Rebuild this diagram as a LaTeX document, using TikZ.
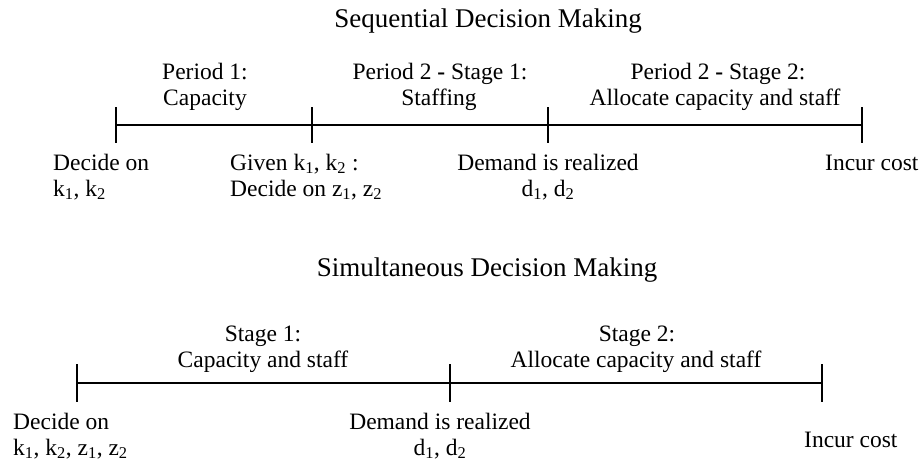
\documentclass[tikz,border=0pt]{standalone}
\usepackage{fontspec}
\setmainfont{Liberation Serif}
\begin{document}
\begin{tikzpicture}[x=1pt,y=-1pt,
  lbl/.style={font=\fontsize{23.5}{26}\selectfont, inner sep=0pt, anchor=base},
  lblw/.style={lbl, anchor=base west},
  ttl/.style={font=\fontsize{27}{30}\selectfont, inner sep=0pt, anchor=base},
  axis/.style={line width=1.6pt},
  tickmark/.style={line width=1.6pt}]
\useasboundingbox (0,0) rectangle (923,464);

% ---------- Sequential decision making ----------
\node[ttl] (seqtitle) at (488,27) {Sequential Decision Making};

\coordinate (s0) at (116,125);
\coordinate (s1) at (312,125);
\coordinate (s2) at (548,125);
\coordinate (s3) at (862,125);
\draw[axis] (s0) -- (s3);
\foreach \p in {s0,s1,s2,s3}
  \draw[tickmark] ([yshift=18pt]\p) -- ([yshift=-18pt]\p);

\node[lbl] (p1a) at (205,79) {Period 1:};
\node[lbl] (p1b) at (205,105) {Capacity};
\node[lbl] (p2a) at (440,79) {Period 2 \textbf{-} Stage 1:};
\node[lbl] (p2b) at (439,105) {Staffing};
\node[lbl] (p3a) at (718,79) {Period 2 \textbf{-} Stage 2:};
\node[lbl] (p3b) at (715,105) {Allocate capacity and staff};

\node[lblw] (e0a) at (53,170) {Decide on};
\node[lblw] (e0b) at (53,196) {k\textsubscript{1}, k\textsubscript{2}};
\node[lblw] (e1a) at (230,170) {Given k\textsubscript{1}, k\textsubscript{2} :};
\node[lblw] (e1b) at (230,196) {Decide on z\textsubscript{1}, z\textsubscript{2}};
\node[lbl] (e2a) at (548,170) {Demand is realized};
\node[lbl] (e2b) at (548,196) {d\textsubscript{1}, d\textsubscript{2}};
\node[lblw] (e3) at (825,170) {Incur cost};

% ---------- Simultaneous decision making ----------
\node[ttl] (simtitle) at (487,276) {Simultaneous Decision Making};

\coordinate (m0) at (77,383);
\coordinate (m1) at (450,383);
\coordinate (m2) at (822,383);
\draw[axis] (m0) -- (m2);
\foreach \p in {m0,m1,m2}
  \draw[tickmark] ([yshift=19pt]\p) -- ([yshift=-19pt]\p);

\node[lbl] (q1a) at (263,341) {Stage 1:};
\node[lbl] (q1b) at (263,367) {Capacity and staff};
\node[lbl] (q2a) at (637,341) {Stage 2:};
\node[lbl] (q2b) at (636,367) {Allocate capacity and staff};

\node[lblw] (f0a) at (13,429) {Decide on};
\node[lblw] (f0b) at (13,455) {k\textsubscript{1}, k\textsubscript{2}, z\textsubscript{1}, z\textsubscript{2}};
\node[lbl] (f1a) at (440,429) {Demand is realized};
\node[lbl] (f1b) at (440,455) {d\textsubscript{1}, d\textsubscript{2}};
\node[lblw] (f2) at (804,447) {Incur cost};
\end{tikzpicture}
\end{document}
